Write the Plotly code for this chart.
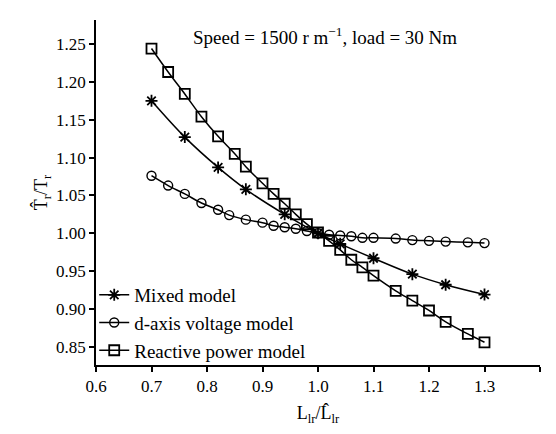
import plotly.graph_objects as go

# Mixed model (asterisks)
mixed_x = [0.70, 0.76, 0.82, 0.87, 0.94, 1.00, 1.04, 1.10, 1.17, 1.23, 1.30]
mixed_y = [1.175, 1.127, 1.087, 1.058, 1.025, 1.000, 0.986, 0.967, 0.946, 0.932, 0.919]

# d-axis voltage model (circles)
daxis_x = [0.70, 0.73, 0.76, 0.79, 0.82, 0.84, 0.87, 0.90, 0.92, 0.94, 0.96, 0.98,
           1.00, 1.02, 1.04, 1.06, 1.08, 1.10, 1.14, 1.17, 1.20, 1.23, 1.27, 1.30]
daxis_y = [1.076, 1.063, 1.052, 1.040, 1.031, 1.024, 1.018, 1.014, 1.010, 1.008, 1.006, 1.003,
           1.000, 0.998, 0.997, 0.996, 0.994, 0.994, 0.993, 0.991, 0.990, 0.989, 0.988, 0.987]

# Reactive power model (squares)
react_x = [0.70, 0.73, 0.76, 0.79, 0.82, 0.85, 0.87, 0.90, 0.92, 0.94, 0.96, 0.98,
           1.00, 1.02, 1.04, 1.06, 1.08, 1.10, 1.14, 1.17, 1.20, 1.23, 1.27, 1.30]
react_y = [1.244, 1.213, 1.184, 1.154, 1.128, 1.105, 1.088, 1.066, 1.052, 1.039, 1.025, 1.012,
           1.001, 0.990, 0.978, 0.965, 0.955, 0.944, 0.924, 0.911, 0.898, 0.883, 0.867, 0.856]

x_ticks = [0.6, 0.7, 0.8, 0.9, 1.0, 1.1, 1.2, 1.3, 1.4]
y_ticks = [0.85, 0.90, 0.95, 1.00, 1.05, 1.10, 1.15, 1.20, 1.25]

FONT = "Liberation Serif"
line_style = dict(color="black", width=1.5, shape="spline", smoothing=1.0)

fig = go.Figure()
fig.add_trace(go.Scatter(
    x=mixed_x, y=mixed_y, mode="lines+markers", name="Mixed model",
    line=line_style,
    marker=dict(symbol="asterisk-open", size=10, color="black", line=dict(color="black", width=1.8)),
))
fig.add_trace(go.Scatter(
    x=daxis_x, y=daxis_y, mode="lines+markers", name="d-axis voltage model",
    line=line_style,
    marker=dict(symbol="circle-open", size=9, color="black", line=dict(color="black", width=1.4)),
))
fig.add_trace(go.Scatter(
    x=react_x, y=react_y, mode="lines+markers", name="Reactive power model",
    line=line_style,
    marker=dict(symbol="square-open", size=10, color="black", line=dict(color="black", width=1.8)),
))

axis_common = dict(
    showline=True, linecolor="black", linewidth=1.5, mirror=False,
    ticks="outside", ticklen=5, tickwidth=1.5, tickcolor="black",
    showgrid=False, zeroline=False, automargin=False,
    tickfont=dict(family=FONT, size=17, color="black"),
)

fig.update_layout(
    width=548, height=426,
    margin=dict(l=96, r=8, t=20, b=61),
    paper_bgcolor="white", plot_bgcolor="white",
    font=dict(family=FONT, color="black"),
    xaxis=dict(
        range=[0.6, 1.4], tickvals=x_ticks, ticktext=[f"{v:.1f}" for v in x_ticks],
        title=dict(text="L<sub>lr</sub>/L\u0302<sub>lr</sub>", font=dict(family=FONT, size=18), standoff=14),
        **axis_common,
    ),
    yaxis=dict(
        range=[0.826, 1.2817], tickvals=y_ticks, ticktext=[f"{v:.2f}" for v in y_ticks],
        title=dict(text="T\u0302<sub>r</sub>/T<sub>r</sub>", font=dict(family=FONT, size=18), standoff=4),
        **axis_common,
    ),
    showlegend=True,
    legend=dict(
        x=-0.004, y=0.258, xanchor="left", yanchor="top",
        bgcolor="rgba(0,0,0,0)", borderwidth=0,
        font=dict(family=FONT, size=19, color="black"),
        tracegroupgap=0, itemwidth=30,
    ),
    annotations=[dict(
        text="Speed = 1500 r m<sup>\u22121</sup>, load = 30 Nm",
        xref="paper", yref="paper", x=0.515, y=0.953, xanchor="center", yanchor="middle",
        showarrow=False, font=dict(family=FONT, size=19, color="black"),
    )],
)

# remove the page's default body margin so the figure sits at the window's corner
fig.write_html(
    "out.html",
    config={"displayModeBar": False},
    post_script="document.body.style.margin='0';document.body.style.overflow='hidden';",
)
